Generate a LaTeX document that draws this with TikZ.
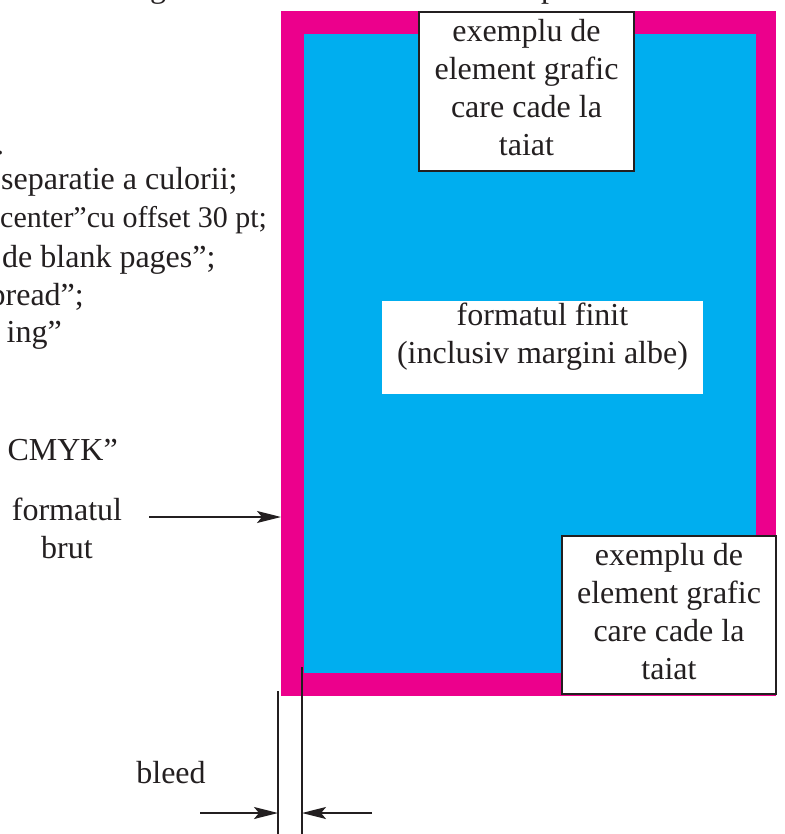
\documentclass[tikz,border=0pt]{standalone}
\usepackage{fontspec}
\setmainfont{Liberation Serif}
\usetikzlibrary{arrows.meta}
\definecolor{pmag}{HTML}{EC008C}
\definecolor{pcyan}{HTML}{00AEEF}
\definecolor{ink}{HTML}{231F20}
\begin{document}
\begin{tikzpicture}[x=1pt,y=-1pt,
  txt/.style={font=\fontsize{32pt}{38pt}\selectfont, text=ink, inner sep=0pt},
  fillrect/.style={draw=none, inner sep=0pt, outer sep=0pt},
  labelbox/.style={txt, fill=white, draw=ink, line width=1.6pt, outer sep=0pt},
  arr/.style={draw=ink, line width=2pt, -{Stealth[length=24pt,width=12pt,inset=5pt]}},
  guide/.style={draw=ink, line width=2pt}]
\useasboundingbox (0,0) rectangle (784,834);
\fill[white] (0,0) rectangle (784,834);

% raw format (with bleed) and finished format
\node[fillrect, fill=pmag, minimum width=495pt, minimum height=685pt] (raw) at (528.5,353.5) {};
\node[fillrect, fill=pcyan, minimum width=452pt, minimum height=639pt] (fin) at (530,353.5) {};

% centre label
\node[txt, fill=white, minimum width=321pt, minimum height=93pt, text height=22pt, text depth=67pt] (finit) at (542.5,347.5)
  {\begin{tabular}[t]{@{}c@{}}formatul finit\\(inclusiv margini albe)\end{tabular}};

% example boxes
\node[labelbox, minimum width=215pt, minimum height=159pt, text height=22pt, text depth=121pt] (topbox) at (526.5,91.5)
  {\begin{tabular}[t]{@{}c@{}}exemplu de\\element grafic\\care cade la\\taiat\end{tabular}};
\node[labelbox, minimum width=214pt, minimum height=158pt, text height=22pt, text depth=122pt] (brbox) at (669,615)
  {\begin{tabular}[t]{@{}c@{}}exemplu de\\element grafic\\care cade la\\taiat\end{tabular}};

% text fragments cut by the top and left edges
\node[txt, anchor=base west] (fragg) at (150,-2) {g};
\node[txt, anchor=base west] (fragp) at (541,-2) {p};
\node[txt, anchor=base west] (fragdot) at (-4,155) {.};

% left text lines (cut by the left edge)
\node[txt, anchor=base west] (l1) at (1,190) {separatie a culorii;};
\node[txt, anchor=base west, font=\fontsize{30pt}{38pt}\selectfont] (l2) at (0,228) {center”cu offset 30 pt;};
\node[txt, anchor=base west] (l3) at (2,267) {de blank pages”;};
\node[txt, anchor=base east] (l4) at (84,305) {pread”;};
\node[txt, anchor=base east] (l5) at (62,342) {ing”};
\node[txt, anchor=base east] (l6) at (118,460) {CMYK”};

% formatul brut
\node[txt, anchor=base] (brut) at (67,520) {\begin{tabular}[t]{@{}c@{}}formatul\\brut\end{tabular}};
\coordinate (brutstart) at (149,517);
\draw[arr] (brutstart) -- (raw.west |- brutstart);

% bleed
\node[txt, anchor=base] (bleed) at (171,783) {bleed};
\coordinate (g1top) at (278,691);
\coordinate (g1bot) at (278,834);
\coordinate (g2top) at (302,667);
\coordinate (g2bot) at (302,834);
\draw[guide] (g1top) -- (g1bot);
\draw[guide] (g2top) -- (g2bot);
\coordinate (a1s) at (200,813);
\coordinate (a2s) at (372,813);
\draw[arr] (a1s) -- (g1top |- a1s);
\draw[arr] (a2s) -- (g2top |- a2s);
\end{tikzpicture}
\end{document}
